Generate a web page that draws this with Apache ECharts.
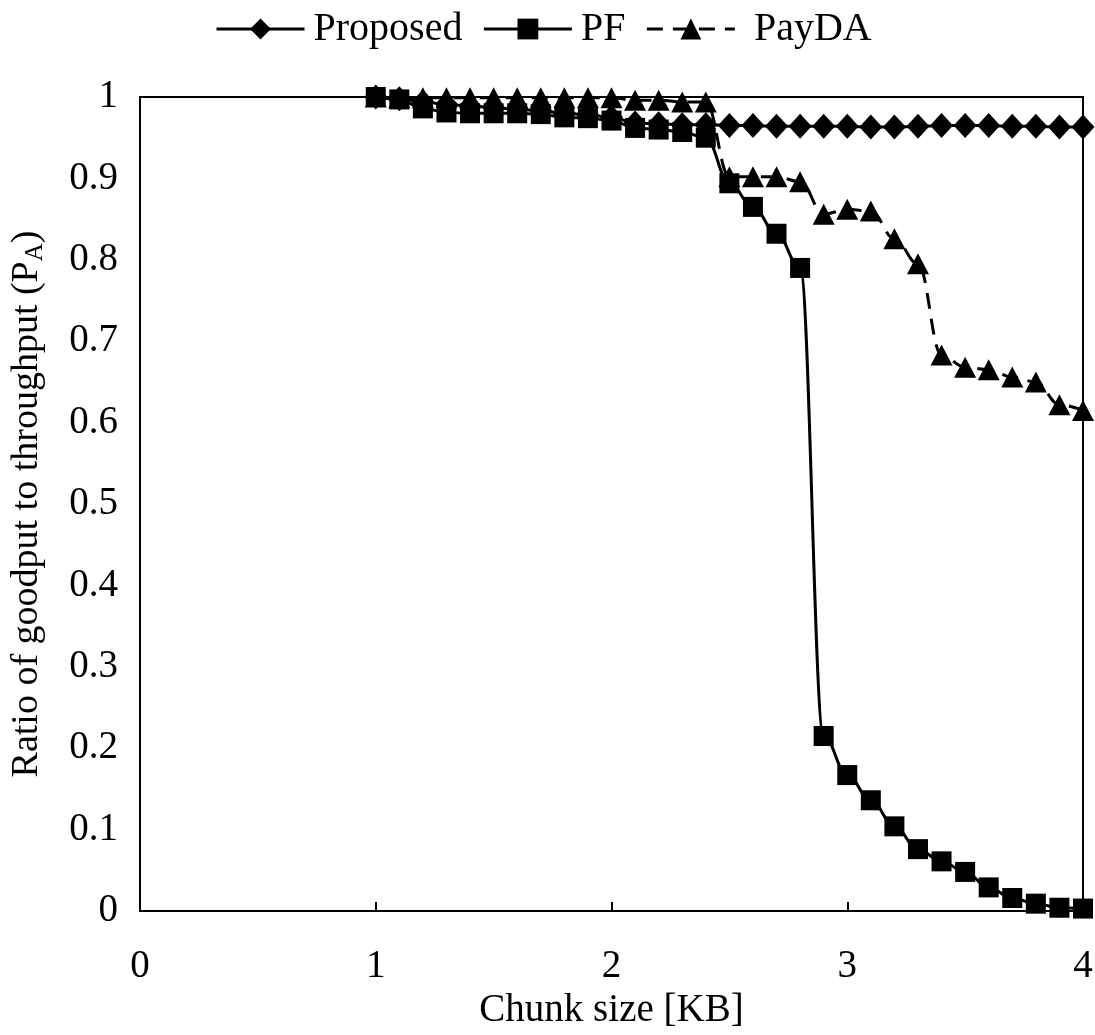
<!DOCTYPE html>
<html><head><meta charset="utf-8">
<script src="https://cdn.jsdelivr.net/npm/echarts@6/dist/echarts.min.js"></script>
<style>html,body{margin:0;padding:0;background:#fff}#c{width:1095px;height:1035px}</style>
</head><body><div id="c"></div>
<script>
const chunkSizes = [1.0,1.1,1.2,1.3,1.4,1.5,1.6,1.7,1.8,1.9,2.0,2.1,2.2,2.3,2.4,2.5,2.6,2.7,2.8,2.9,3.0,3.1,3.2,3.3,3.4,3.5,3.6,3.7,3.8,3.9,4.0];
const proposed = [1.0,0.998,0.994,0.991,0.989,0.987,0.985,0.983,0.980,0.978,0.975,0.968,0.967,0.966,0.966,0.965,0.965,0.964,0.964,0.964,0.964,0.963,0.963,0.964,0.965,0.965,0.965,0.964,0.964,0.963,0.963];
const pf = [1.0,0.997,0.986,0.981,0.980,0.980,0.980,0.979,0.975,0.974,0.971,0.962,0.960,0.957,0.950,0.894,0.865,0.832,0.790,0.215,0.167,0.136,0.104,0.076,0.061,0.048,0.029,0.016,0.009,0.004,0.003];
const payda = [1.0,0.999,0.999,0.999,0.999,0.999,0.999,0.999,0.999,0.999,0.999,0.996,0.996,0.994,0.994,0.902,0.902,0.902,0.896,0.856,0.862,0.860,0.826,0.795,0.683,0.668,0.665,0.656,0.650,0.622,0.615];
const xTicks = [0,1,2,3,4];
const yTicks = [0,0.1,0.2,0.3,0.4,0.5,0.6,0.7,0.8,0.9,1];

const pair = ys => chunkSizes.map((x,i)=>[x,ys[i]]);
const FONT = '"Liberation Serif","Times New Roman",serif';
const FS = 39;
const chart = echarts.init(document.getElementById('c'));
chart.setOption({
  animation:false,
  textStyle:{fontFamily:FONT,color:'#000'},
  legend:{
    top:4,left:210,itemWidth:88,itemHeight:26,itemGap:20,
    textStyle:{fontFamily:FONT,fontSize:40,color:'#000',padding:[0,0,0,4]},
    lineStyle:{width:3},
    formatter:n=>n==='PayDA'?' '+n:n,
    data:['Proposed','PF','PayDA']
  },
  grid:{left:140,right:12,top:97,bottom:124,outerBoundsMode:'none',containLabel:false,show:true,borderColor:'#000',borderWidth:2,backgroundColor:'transparent'},
  xAxis:{
    type:'value',min:xTicks[0],max:xTicks[xTicks.length-1],interval:1,
    name:'Chunk size [KB]',nameLocation:'middle',nameGap:73,
    nameTextStyle:{fontFamily:FONT,fontSize:FS,color:'#000'},
    axisLine:{lineStyle:{color:'#000',width:2}},
    axisTick:{inside:true,length:9,lineStyle:{color:'#000',width:2}},
    axisLabel:{fontFamily:FONT,fontSize:FS,color:'#000',margin:36},
    splitLine:{show:false}
  },
  yAxis:{
    type:'value',min:0,max:1,interval:0.1,
    name:'{m|Ratio of goodput to throughput (P}{s|A}{m|)}',nameLocation:'middle',nameGap:92,nameRotate:90,
    nameTextStyle:{rich:{m:{fontFamily:FONT,fontSize:38,color:'#000',lineHeight:42},s:{fontFamily:FONT,fontSize:25,color:'#000',verticalAlign:'bottom',lineHeight:42,padding:[14,0,0,0]}}},
    axisLine:{show:true,lineStyle:{color:'#000',width:2}},
    axisTick:{show:false},
    axisLabel:{fontFamily:FONT,fontSize:FS,color:'#000',margin:22,formatter:v=>String(Math.round(v*10)/10)},
    splitLine:{show:false}
  },
  series:[
    {name:'Proposed',type:'line',data:pair(proposed),smooth:0.4,smoothMonotone:'x',symbol:'diamond',symbolSize:[23,25],
     lineStyle:{color:'#000',width:3},itemStyle:{color:'#000'}},
    {name:'PF',type:'line',data:pair(pf),smooth:0.4,smoothMonotone:'x',symbol:'rect',symbolSize:20,
     lineStyle:{color:'#000',width:3},itemStyle:{color:'#000'}},
    {name:'PayDA',type:'line',data:pair(payda),smooth:0.4,smoothMonotone:'x',symbol:'triangle',symbolSize:[22,21],
     lineStyle:{color:'#000',width:3,type:[16,10]},itemStyle:{color:'#000'}}
  ]
});
</script></body></html>
